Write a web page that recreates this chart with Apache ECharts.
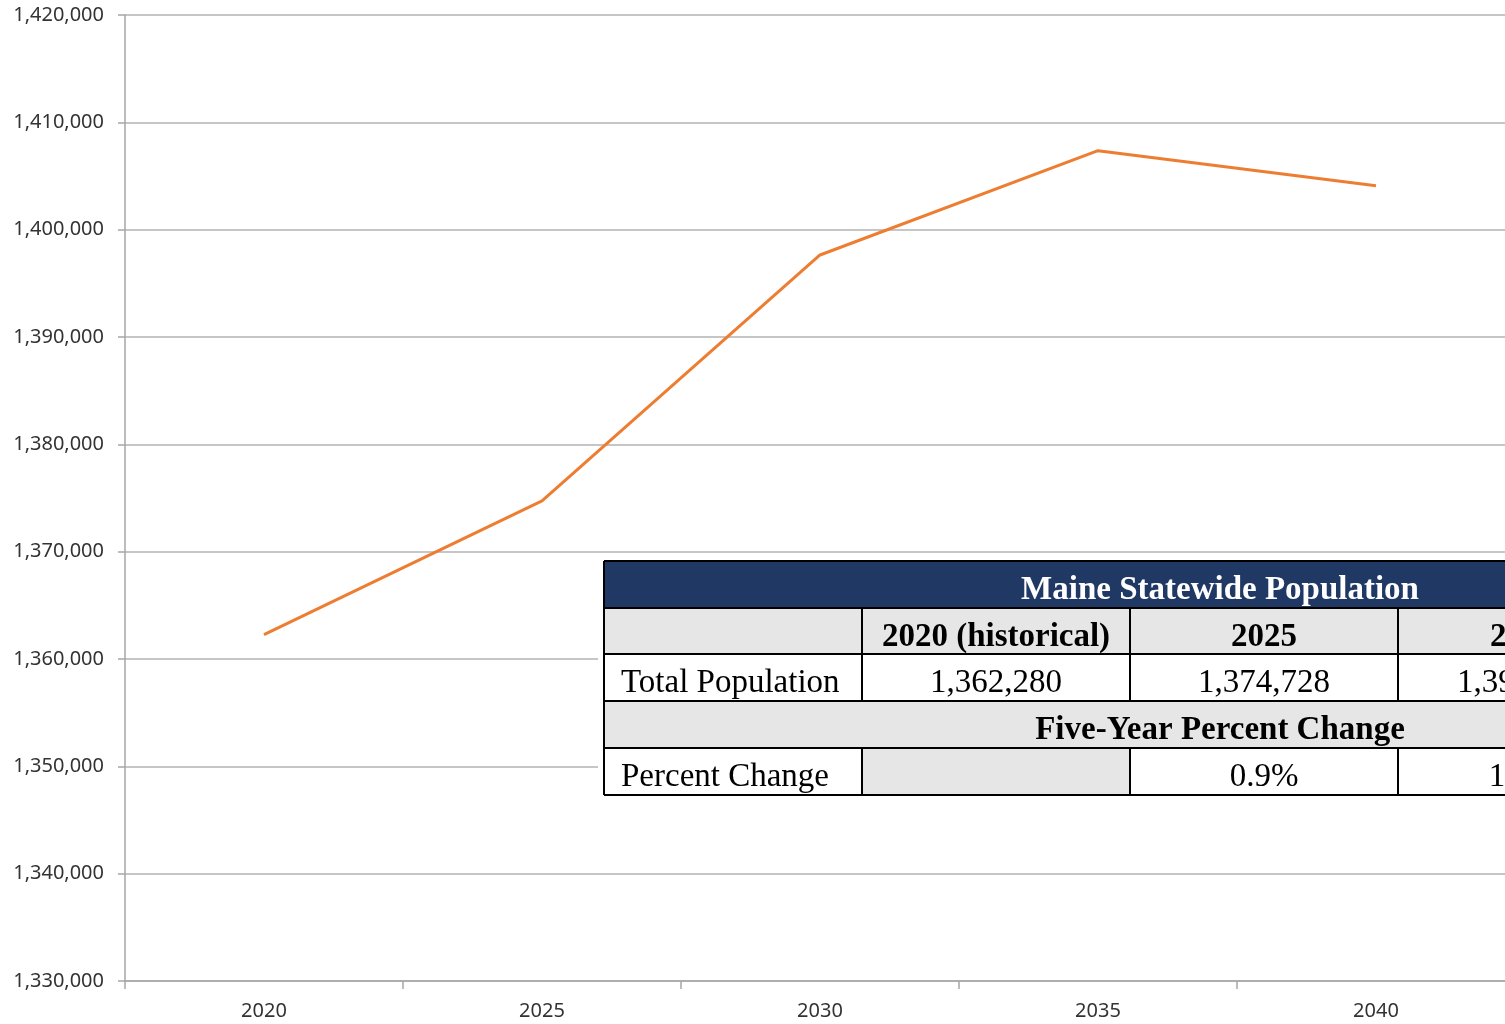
<!DOCTYPE html>
<html>
<head>
<meta charset="utf-8">
<title>Maine Statewide Population</title>
<script src="https://cdn.jsdelivr.net/npm/echarts@6/dist/echarts.min.js"></script>
<style>
  html, body { margin: 0; padding: 0; background: #fff; overflow: hidden; }
  /* the original picture is cropped on the right: the chart is wider than the window */
  #chart { width: 1793px; height: 1024px; }
</style>
</head>
<body>
<div id="chart"></div>
<script>
// chart data
var years = ['2020', '2025', '2030', '2035', '2040', '2045'];
var population = [1362280, 1374728, 1397640, 1407360, 1404100, null];
var yTicks = { min: 1330000, max: 1420000, interval: 10000 };

// table contents
var tableTitle = 'Maine Statewide Population';
var tableSubTitle = 'Five-Year Percent Change';
var tableRowLabels = ['Total Population', 'Percent Change'];
var tableHeads = ['2020 (historical)', '2025', '2030'];
var tableTotals = [1362280, 1374728, 1397640];
var tablePercent = ['', '0.9%', '1.7%'];

var fmt = function (v) { return v.toLocaleString('en-US'); };

// table layout (pixels)
var tx = [604, 862, 1130, 1398, 1836];
var colCenter = [733, 996, 1264, 1523];
var ty = [561, 608, 654, 701, 748, 795];
var serif = "'Liberation Serif', 'Times New Roman', serif";

var g = [];
// white backing behind the table
g.push({ type: 'rect', shape: { x: 598, y: 557, width: 1300, height: 244 }, style: { fill: '#fff' }, z: 10 });
// row fills
g.push({ type: 'rect', shape: { x: tx[0], y: ty[0], width: tx[4] - tx[0], height: ty[1] - ty[0] }, style: { fill: '#203864' }, z: 11 });
g.push({ type: 'rect', shape: { x: tx[0], y: ty[1], width: tx[4] - tx[0], height: ty[2] - ty[1] }, style: { fill: '#e6e6e6' }, z: 11 });
g.push({ type: 'rect', shape: { x: tx[0], y: ty[3], width: tx[4] - tx[0], height: ty[4] - ty[3] }, style: { fill: '#e6e6e6' }, z: 11 });
g.push({ type: 'rect', shape: { x: tx[1], y: ty[4], width: tx[2] - tx[1], height: ty[5] - ty[4] }, style: { fill: '#e6e6e6' }, z: 11 });

// borders
var line = function (x1, y1, x2, y2) {
  g.push({ type: 'line', shape: { x1: x1, y1: y1, x2: x2, y2: y2 }, style: { stroke: '#000', lineWidth: 2 }, z: 12 });
};
ty.forEach(function (y) { line(tx[0], y, tx[4], y); });
line(tx[0], ty[0], tx[0], ty[5]);
[1, 2, 3].forEach(function (i) {
  line(tx[i], ty[1], tx[i], ty[3]);
  line(tx[i], ty[4], tx[i], ty[5]);
});

var text = function (str, x, y, opts) {
  g.push({
    type: 'text', x: x, y: y, z: 13,
    style: {
      text: str, font: (opts.bold ? 'bold ' : '') + '33px ' + serif,
      fill: opts.color || '#000', align: opts.align || 'center', verticalAlign: 'middle'
    }
  });
};
var mid = function (i) { return (ty[i] + ty[i + 1]) / 2 + 6; };

text(tableTitle, 1220, mid(0), { bold: true, color: '#fff' });
tableHeads.forEach(function (h, i) { text(h, colCenter[i + 1], mid(1), { bold: true }); });
text(tableRowLabels[0], 621, mid(2), { align: 'left' });
tableTotals.forEach(function (v, i) { text(fmt(v), colCenter[i + 1], mid(2), {}); });
text(tableSubTitle, 1220, mid(3), { bold: true });
text(tableRowLabels[1], 621, mid(4), { align: 'left' });
tablePercent.forEach(function (p, i) { if (p) text(p, colCenter[i + 1], mid(4), {}); });

var option = {
  animation: false,
  backgroundColor: '#fff',
  grid: { left: 125, top: 15, bottom: 43, right: 0 },
  xAxis: {
    type: 'category',
    data: years,
    boundaryGap: true,
    axisLine: { lineStyle: { color: '#a6a6a6', width: 1.5 } },
    axisTick: { show: true, length: 8, lineStyle: { color: '#a6a6a6', width: 1.5 } },
    axisLabel: { margin: 20, color: '#333', fontSize: 20, fontFamily: 'Noto Sans' }
  },
  yAxis: {
    type: 'value',
    min: yTicks.min,
    max: yTicks.max,
    interval: yTicks.interval,
    axisLine: { show: true, lineStyle: { color: '#a6a6a6', width: 1.5 } },
    axisTick: { show: true, length: 7, lineStyle: { color: '#a6a6a6', width: 1.5 } },
    splitLine: { lineStyle: { color: '#b3b3b3', width: 1.5 } },
    axisLabel: {
      margin: 21, color: '#333', fontSize: 20, fontFamily: 'Noto Sans',
      formatter: function (v) { return fmt(v); }
    }
  },
  series: [{
    type: 'line',
    data: population,
    symbol: 'none',
    lineStyle: { color: '#ED7D31', width: 3 },
    z: 5
  }],
  graphic: g
};

var myChart = echarts.init(document.getElementById('chart'));
myChart.setOption(option);
</script>
</body>
</html>
